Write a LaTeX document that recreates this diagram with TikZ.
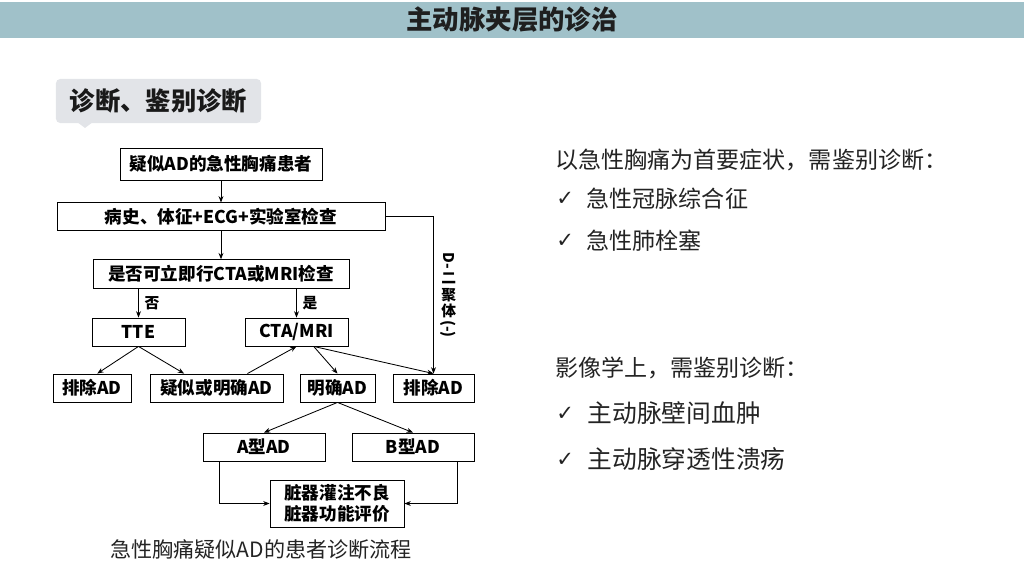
\documentclass[tikz,border=0pt]{standalone}
\usepackage{fontspec}
\setmainfont{Noto Sans CJK SC}
\newfontfamily\symfont{DejaVu Sans}
\usetikzlibrary{arrows.meta, positioning, calc}
\definecolor{titlebar}{RGB}{160,193,201}
\definecolor{tagfill}{RGB}{226,228,232}
\definecolor{bodytext}{RGB}{35,35,35}

\newcommand{\chk}{\raisebox{0.08em}{\symfont\fontsize{15}{15}\selectfont ✓}\hspace{0.55em}}

\begin{document}
\begin{tikzpicture}[
  x=0.025cm, y=-0.025cm,
  flowbox/.style={
    rectangle, draw=black, line width=0.6pt, fill=white,
    minimum height=0.7cm, inner sep=1pt, align=center,
    font=\fontsize{12.5}{15}\selectfont\bfseries
  },
  rtext/.style={
    anchor=west, inner sep=0pt, text=bodytext,
    font=\fontsize{16.4}{18}\selectfont
  },
  arrow/.style={-{Stealth[length=4.5pt, width=3.5pt]}, line width=0.6pt},
  tinylabel/.style={font=\fontsize{10.5}{12}\selectfont\bfseries, inner sep=1pt}
]
\useasboundingbox (0,0) rectangle (1024,576);

% ── Header ──
\node[fill=titlebar, minimum width=25.6cm, minimum height=0.9cm, inner sep=0pt,
  font=\fontsize{18.8}{22}\selectfont\bfseries, text=black!88] (title) at (512,20) {主动脉夹层的诊治};
\node[fill=tagfill, rounded corners=3pt, minimum width=5.125cm, minimum height=1.1cm,
  font=\fontsize{18}{20}\selectfont\bfseries, text=black!90] (tag) at (158.5,101) {诊断、鉴别诊断};
\fill[tagfill] (77,122) -- (85,128) -- (93,122) -- cycle;

% ── Flowchart boxes ──
\node[flowbox, minimum width=5.05cm, minimum height=0.8cm] (suspect) at (221,164) {疑似AD的急性胸痛患者};
\node[flowbox, minimum width=8.2cm, below=0.55cm of suspect] (history) {病史、体征+ECG+实验室检查};
\node[flowbox, minimum width=6.4cm, minimum height=0.725cm, below=0.7cm of history] (imaging) {是否可立即行CTA或MRI检查};

\node[flowbox, minimum width=2.325cm] (tte) at (138.5,332) {TTE};
\node[flowbox, minimum width=2.575cm] (ctamri) at (296.5,332) {CTA/MRI};

\node[flowbox, minimum width=1.95cm] (excludeleft) at (92,388) {排除AD};
\node[flowbox, minimum width=3.325cm] (suspectad) at (216.5,388) {疑似或明确AD};
\node[flowbox, minimum width=1.875cm] (definitead) at (337.5,388) {明确AD};
\node[flowbox, minimum width=2.025cm] (excluderight) at (433.5,388) {排除AD};

\node[flowbox, minimum width=3.05cm] (typea) at (264,447) {A型AD};
\node[flowbox, minimum width=3.05cm] (typeb) at (413,447) {B型AD};

\node[flowbox, minimum width=3.35cm, minimum height=1.175cm] (organ) at (337,503.5) {脏器灌注不良\\脏器功能评价};

\node[font=\fontsize{15}{17}\selectfont, text=bodytext] (caption) at (261,549) {急性胸痛疑似AD的患者诊断流程};

% ── Flowchart arrows ──
\draw[arrow] (suspect) -- (history);
\draw[arrow] (history) -- (imaging);
\draw[arrow] (tte.north |- imaging.south) -- node[tinylabel, right=3pt] (no) {否} (tte.north);
\draw[arrow] (ctamri.north |- imaging.south) -- node[tinylabel, right=3pt] (yes) {是} (ctamri.north);

\draw[arrow] (tte.south) -- (excludeleft.70);
\draw[arrow] (tte.south) -- (suspectad.156);
\draw[arrow] (suspectad.25) -- (ctamri.south);
\draw[arrow] (ctamri.-40) -- (definitead.north);
\draw[arrow] (ctamri.-40) -- (excluderight.north);

\draw[arrow] (history.east) -| (excluderight.north)
  node[pos=0.75, right=4pt, tinylabel, align=center] (ddimer)
  {\rotatebox[origin=c]{-90}{D-}\\二\\聚\\体\\\rotatebox[origin=c]{-90}{(-)}};

\draw[arrow] (definitead.south) -- (typea.north);
\draw[arrow] (definitead.south) -- (typeb.north);
\draw[arrow] (typea.-162) |- (organ.west);
\draw[arrow] (typeb.-18) |- (organ.east);

% ── Right column text ──
\node[rtext] (lead) at (555,160) {以急性胸痛为首要症状，需鉴别诊断：};
\node[rtext] (acs) at (556,199) {\chk 急性冠脉综合征};
\node[rtext] (pe) at (556,241) {\chk 急性肺栓塞};
\node[rtext] (imglead) at (555,368) {影像学上，需鉴别诊断：};
\node[rtext, font=\fontsize{17.6}{19}\selectfont] (imh) at (556,413) {\chk 主动脉壁间血肿};
\node[rtext, font=\fontsize{17.6}{19}\selectfont] (pau) at (556,459) {\chk 主动脉穿透性溃疡};

\end{tikzpicture}
\end{document}
